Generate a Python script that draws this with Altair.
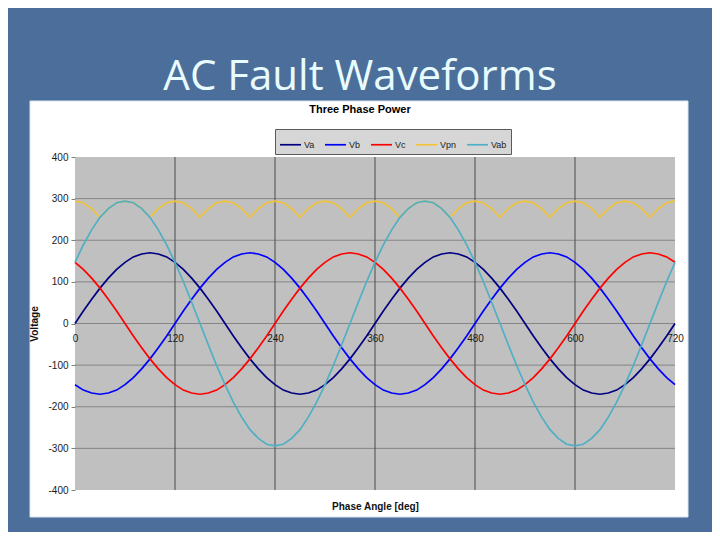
import altair as alt
import pandas as pd

# ---- data (phase angle in degrees, voltage) ----
angles = list(range(0, 721, 10))

va = [0, 30, 58, 85, 109, 130, 147, 160, 167, 170, 167, 160,
      147, 130, 109, 85, 58, 30, 0, -30, -58, -85, -109, -130,
      -147, -160, -167, -170, -167, -160, -147, -130, -109, -85, -58, -30,
      0, 30, 58, 85, 109, 130, 147, 160, 167, 170, 167, 160,
      147, 130, 109, 85, 58, 30, 0, -30, -58, -85, -109, -130,
      -147, -160, -167, -170, -167, -160, -147, -130, -109, -85, -58, -30, 0]

vb = [-147, -160, -167, -170, -167, -160, -147, -130, -109, -85, -58, -30,
      0, 30, 58, 85, 109, 130, 147, 160, 167, 170, 167, 160,
      147, 130, 109, 85, 58, 30, 0, -30, -58, -85, -109, -130,
      -147, -160, -167, -170, -167, -160, -147, -130, -109, -85, -58, -30,
      0, 30, 58, 85, 109, 130, 147, 160, 167, 170, 167, 160,
      147, 130, 109, 85, 58, 30, 0, -30, -58, -85, -109, -130, -147]

vc = [147, 130, 109, 85, 58, 30, 0, -30, -58, -85, -109, -130,
      -147, -160, -167, -170, -167, -160, -147, -130, -109, -85, -58, -30,
      0, 30, 58, 85, 109, 130, 147, 160, 167, 170, 167, 160,
      147, 130, 109, 85, 58, 30, 0, -30, -58, -85, -109, -130,
      -147, -160, -167, -170, -167, -160, -147, -130, -109, -85, -58, -30,
      0, 30, 58, 85, 109, 130, 147, 160, 167, 170, 167, 160, 147]

vpn = [294, 290, 276, 255, 276, 290, 294, 290, 276, 255, 276, 290,
       294, 290, 276, 255, 276, 290, 294, 290, 276, 255, 276, 290,
       294, 290, 276, 255, 276, 290, 294, 290, 276, 255, 276, 290,
       294, 290, 276, 255, 276, 290, 294, 290, 276, 255, 276, 290,
       294, 290, 276, 255, 276, 290, 294, 290, 276, 255, 276, 290,
       294, 290, 276, 255, 276, 290, 294, 290, 276, 255, 276, 290, 294]

vab = [147, 189, 225, 255, 276, 290, 294, 290, 276, 255, 225, 189,
       147, 101, 51, 0, -51, -101, -147, -189, -225, -255, -276, -290,
       -294, -290, -276, -255, -225, -189, -147, -101, -51, 0, 51, 101,
       147, 189, 225, 255, 276, 290, 294, 290, 276, 255, 225, 189,
       147, 101, 51, 0, -51, -101, -147, -189, -225, -255, -276, -290,
       -294, -290, -276, -255, -225, -189, -147, -101, -51, 0, 51, 101, 147]

series_names = ["Va", "Vb", "Vc", "Vpn", "Vab"]
series_values = [va, vb, vc, vpn, vab]
series_colors = ["#000080", "#0000ff", "#ff0000", "#f2c43a", "#4fafc4"]
series_widths = [1.7, 1.7, 1.7, 3.2, 2.5]

x_ticks = [0, 120, 240, 360, 480, 600, 720]
y_ticks = [-400, -300, -200, -100, 0, 100, 200, 300, 400]
h_grid = [-300, -200, -100, 0, 100, 200, 300]
v_grid = [120, 240, 360, 480, 600]

rows = []
for name, vals in zip(series_names, series_values):
    for a, v in zip(angles, vals):
        rows.append({"angle": a, "voltage": v, "series": name})
df = pd.DataFrame(rows)

W, H = 600, 333
xscale = alt.Scale(domain=[0, 720], nice=False, zero=False)
yscale = alt.Scale(domain=[-400, 400], nice=False)

x_axis = alt.Axis(values=x_ticks, grid=False, domain=False, ticks=False, zindex=2,
                  offset=-H / 2, labelPadding=10, labelFontSize=10,
                  labelFont="Liberation Sans", labelColor="#1a1a1a",
                  labelFlush=False, labelExpr="datum.value + ''",
                  title="Phase Angle [deg]", titleFont="Liberation Sans",
                  titleFontSize=10, titleFontWeight="bold", titleColor="#111",
                  titleY=186, titleBaseline="alphabetic")
y_axis = alt.Axis(values=y_ticks, grid=False, domain=False, tickSize=4, zindex=2,
                  tickColor="#808080", labelPadding=3, labelFontSize=10,
                  labelFont="Liberation Sans", labelColor="#1a1a1a",
                  labelExpr="datum.value + ''",
                  title="Voltage", titleFont="Liberation Sans", titleFontSize=10,
                  titleFontWeight="bold", titleColor="#111", titlePadding=8)

one = pd.DataFrame({"k": [0]})

# white slide panel behind the chart
panel = alt.Chart(one).mark_rect(fill="white", stroke="#dce6ef", strokeWidth=1).encode(
    x=alt.value(-45), x2=alt.value(613), y=alt.value(-56), y2=alt.value(360)
)
# gray plot area
plotbg = alt.Chart(one).mark_rect(fill="#c0c0c0").encode(
    x=alt.value(0), x2=alt.value(W), y=alt.value(0), y2=alt.value(H)
)

hgrid = alt.Chart(pd.DataFrame({"voltage": h_grid})).mark_rule(color="#858585", strokeWidth=1).encode(
    y=alt.Y("voltage:Q", scale=yscale, axis=y_axis), x=alt.value(0), x2=alt.value(W)
)
vgrid = alt.Chart(pd.DataFrame({"angle": v_grid})).mark_rule(color="#4a4a4a", strokeWidth=1).encode(
    x=alt.X("angle:Q", scale=xscale, axis=x_axis), y=alt.value(0), y2=alt.value(H)
)

lines = alt.Chart(df).mark_line().encode(
    x=alt.X("angle:Q", scale=xscale, axis=x_axis),
    y=alt.Y("voltage:Q", scale=yscale, axis=y_axis),
    color=alt.Color("series:N", sort=series_names,
                    scale=alt.Scale(domain=series_names, range=series_colors),
                    legend=alt.Legend(title=None, orient="none", legendX=200, legendY=-28,
                                      direction="horizontal", columns=5,
                                      symbolType="stroke", symbolSize=441,
                                      symbolStrokeWidth=1.5, labelFontSize=9,
                                      labelFont="Liberation Sans", labelColor="#222",
                                      labelOffset=2, columnPadding=6, padding=4,
                                      fillColor="#d6d6d6", strokeColor="#5a5a5a")),
    strokeWidth=alt.StrokeWidth("series:N",
                                scale=alt.Scale(domain=series_names, range=series_widths),
                                legend=None),
)

chart = alt.layer(panel, plotbg, hgrid, vgrid, lines).properties(
    width=W, height=H,
    autosize=alt.AutoSizeParams(type="none"),
    padding={"left": 67, "top": 149, "right": 37, "bottom": 42},
    background="#4b6f9a",
    title=alt.TitleParams(
        text="AC Fault Waveforms", subtitle="Three Phase Power",
        frame="group", anchor="middle", dx=-15, offset=-15,
        font="Open Sans", fontSize=42, fontWeight="normal", color="#e8fbff",
        subtitleFont="Liberation Sans", subtitleFontSize=11,
        subtitleFontWeight="bold", subtitleColor="#000000", subtitlePadding=5,
    ),
).configure_view(stroke=None)

chart.save("out.html", embed_options={"renderer": "svg", "actions": False})
